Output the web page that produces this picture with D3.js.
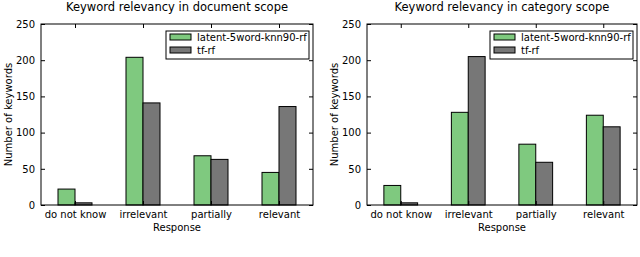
<!DOCTYPE html>
<meta charset="utf-8">
<html lang="en">
<head>
<script src="https://d3js.org/d3.v7.min.js"></script>
<style>
  body { margin: 0; background: #fff; }
  text { font-family: "DejaVu Sans", sans-serif; fill: #000; }
</style>
</head>
<body>
<div id="chart"></div>
<script>
// data
var categories = ["do not know", "irrelevant", "partially", "relevant"];
var seriesNames = ["latent-5word-knn90-rf", "tf-rf"];
var docLatent = [22, 204, 68, 45];
var docTf = [3, 141, 63, 136];
var catLatent = [27, 128, 84, 124];
var catTf = [3, 205, 59, 108];
var yTicks = [0, 50, 100, 150, 200, 250];
var colors = ["#7fc97f", "#777777"];

var svg = d3.select("#chart").append("svg")
  .attr("width", 640).attr("height", 257);

function panel(left, right, title, series) {
  var top = 24, bottom = 205;
  var x = d3.scaleLinear().domain([0, categories.length]).range([left, right]);
  var y = d3.scaleLinear().domain([0, 250]).range([bottom, top]);
  var g = svg.append("g");

  // bars
  series.forEach(function(vals, s) {
    g.selectAll(".b" + s)
      .data(vals)
      .enter().append("rect")
        .attr("x", function(d, i) { return x(i + 0.25 + 0.25 * s); })
        .attr("width", x(0.25) - x(0))
        .attr("y", function(d) { return y(d); })
        .attr("height", function(d) { return y(0) - y(d); })
        .attr("fill", colors[s])
        .attr("stroke", "#000")
        .attr("stroke-width", 1);
  });

  // inward ticks, mpl classic style
  var yl = d3.axisLeft(y).tickValues(yTicks).tickSize(-4).tickPadding(6);
  var yr = d3.axisRight(y).tickValues(yTicks).tickSize(-4).tickFormat("");
  var xb = d3.axisBottom(x).tickValues(categories.map(function(c, i) { return i + 0.5; }))
    .tickSize(-4).tickPadding(6).tickFormat(function(d) { return categories[Math.floor(d)]; });
  var xt = d3.axisTop(x).tickValues(categories.map(function(c, i) { return i + 0.5; }))
    .tickSize(-4).tickFormat("");

  g.append("g").attr("transform", "translate(" + left + ",0)").call(yl);
  g.append("g").attr("transform", "translate(" + right + ",0)").call(yr);
  g.append("g").attr("transform", "translate(0," + bottom + ")").call(xb);
  g.append("g").attr("transform", "translate(0," + top + ")").call(xt);
  g.selectAll(".domain").remove();
  g.selectAll(".tick text").style("font-size", "10px").style("font-family", "DejaVu Sans");

  g.append("rect")
    .attr("x", left).attr("y", top)
    .attr("width", right - left).attr("height", bottom - top)
    .attr("fill", "none").attr("stroke", "#000").attr("stroke-width", 1);

  g.append("text")
    .attr("x", (left + right) / 2).attr("y", 11)
    .attr("text-anchor", "middle")
    .style("font-size", "11.5px")
    .text(title);

  g.append("text")
    .attr("x", (left + right) / 2).attr("y", 231)
    .attr("text-anchor", "middle")
    .style("font-size", "10px")
    .text("Response");

  g.append("text")
    .attr("transform", "translate(" + (left - 29) + "," + ((top + bottom) / 2) + ") rotate(-90)")
    .attr("text-anchor", "middle")
    .style("font-size", "10px")
    .text("Number of keywords");

  // legend
  var lx = right - 147, ly = 31;
  g.append("rect")
    .attr("x", lx).attr("y", ly).attr("width", 143).attr("height", 28)
    .attr("fill", "#fff").attr("stroke", "#000").attr("stroke-width", 1);
  seriesNames.forEach(function(name, s) {
    g.append("rect")
      .attr("x", lx + 4).attr("y", ly + 3 + s * 13)
      .attr("width", 21).attr("height", 6)
      .attr("fill", colors[s]).attr("stroke", "#000").attr("stroke-width", 1);
    g.append("text")
      .attr("x", lx + 31).attr("y", ly + 10 + s * 13)
      .style("font-size", "10px")
      .text(name);
  });
}

panel(41, 313, "Keyword relevancy in document scope", [docLatent, docTf]);
panel(367, 637, "Keyword relevancy in category scope", [catLatent, catTf]);
</script>
</body>
</html>
